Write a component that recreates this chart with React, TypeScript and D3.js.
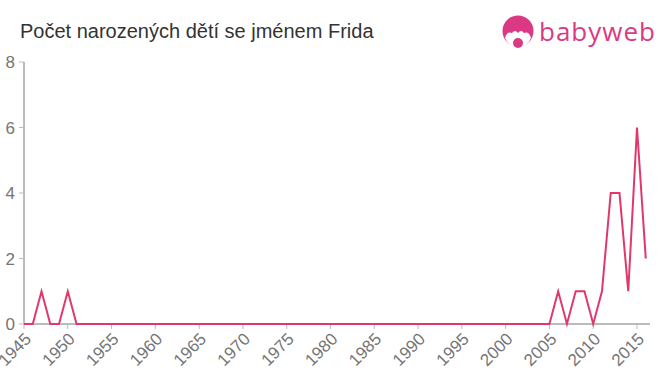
import React from "react";
import * as d3 from "d3";

const years: number[] = [
  1945, 1946, 1947, 1948, 1949, 1950, 1951, 1952, 1953, 1954, 1955, 1956, 1957, 1958, 1959,
  1960, 1961, 1962, 1963, 1964, 1965, 1966, 1967, 1968, 1969, 1970, 1971, 1972, 1973, 1974,
  1975, 1976, 1977, 1978, 1979, 1980, 1981, 1982, 1983, 1984, 1985, 1986, 1987, 1988, 1989,
  1990, 1991, 1992, 1993, 1994, 1995, 1996, 1997, 1998, 1999, 2000, 2001, 2002, 2003, 2004,
  2005, 2006, 2007, 2008, 2009, 2010, 2011, 2012, 2013, 2014, 2015, 2016,
];
const counts: number[] = [
  0, 0, 1, 0, 0, 1, 0, 0, 0, 0, 0, 0, 0, 0, 0,
  0, 0, 0, 0, 0, 0, 0, 0, 0, 0, 0, 0, 0, 0, 0,
  0, 0, 0, 0, 0, 0, 0, 0, 0, 0, 0, 0, 0, 0, 0,
  0, 0, 0, 0, 0, 0, 0, 0, 0, 0, 0, 0, 0, 0, 0,
  0, 1, 0, 1, 1, 0, 1, 4, 4, 1, 6, 2,
];
const xTicks: number[] = [1945, 1950, 1955, 1960, 1965, 1970, 1975, 1980, 1985, 1990, 1995, 2000, 2005, 2010, 2015];
const yTicks: number[] = [0, 2, 4, 6, 8];
const title = "Počet narozených dětí se jménem Frida";

export default function App() {
  const W = 660, H = 375;
  const x = d3.scaleLinear().domain([1945, 2015]).range([24, 637]);
  const y = d3.scaleLinear().domain([0, 8]).range([324, 62]);
  const line = d3.line<number>().x((_, i) => x(years[i])).y((d) => y(d));
  const axisColor = "#bbbbbb";
  const textColor = "#757575";
  const font = "Arial, 'Liberation Sans', sans-serif";
  const pink = "#d93a83";
  return (
    <svg width={W} height={H} style={{ position: "absolute", left: 0, top: 0 }} fontFamily={font}>
      <rect width={W} height={H} fill="#fff" />
      <text x={20} y={38} fontSize={20} fill="#333">{title}</text>
      {/* logo */}
      <g>
        <circle cx={518} cy={31} r={15.5} fill={pink} />
        <path d="M 505 38 Q 507 31 512 33 Q 515 29 518 33 Q 521 29 524 33 Q 529 31 531 38 Q 527 47 518 47 Q 509 47 505 38 Z" fill="#fff" />
        <circle cx={518} cy={43} r={5} fill={pink} />
        <text x={539} y={41} fontSize={26} letterSpacing={1} fill={pink} fontFamily="'Open Sans', Arial, sans-serif">babyweb</text>
      </g>
      {/* y axis */}
      <line x1={24} x2={24} y1={62} y2={324} stroke={axisColor} strokeWidth={2} />
      {yTicks.map((t) => (
        <g key={t}>
          <line x1={19} x2={24} y1={y(t)} y2={y(t)} stroke={axisColor} strokeWidth={1} />
          <text x={15} y={y(t) + 6} fontSize={17} fill={textColor} textAnchor="end">{t}</text>
        </g>
      ))}
      {/* x axis */}
      <line x1={24} x2={650} y1={324} y2={324} stroke={axisColor} strokeWidth={2} />
      {xTicks.map((t) => (
        <g key={t}>
          <line x1={x(t)} x2={x(t)} y1={324} y2={329} stroke={axisColor} strokeWidth={1} />
          <text
            transform={`translate(${x(t) + 5},${337}) rotate(-45)`}
            fontSize={17}
            fill={textColor}
            textAnchor="end"
            dominantBaseline="middle"
          >
            {t}
          </text>
        </g>
      ))}
      <path d={line(counts) || ""} fill="none" stroke="#e0386a" strokeWidth={2} strokeLinejoin="miter" />
    </svg>
  );
}
